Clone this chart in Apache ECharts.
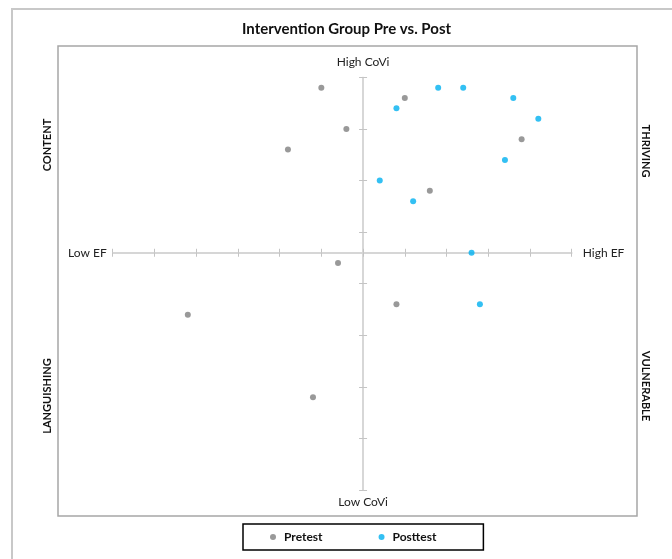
<!DOCTYPE html>
<html>
<head>
<meta charset="utf-8">
<script src="https://cdn.jsdelivr.net/npm/echarts@6/dist/echarts.min.js"></script>
<style>html,body{margin:0;padding:0;background:#fff;}#c{width:672px;height:559px;}</style>
</head>
<body>
<div id="c"></div>
<script>
var titleText = 'Intervention Group Pre vs. Post';
var seriesNames = ['Pretest', 'Posttest'];
var preX = [-1.0, 1.0, -0.4, -1.8, 3.8, 1.6, -0.6, 0.8, -4.2, -1.2];
var preY = [3.2, 3.0, 2.4, 2.0, 2.2, 1.2, -0.2, -1.0, -1.2, -2.8];
var postX = [1.8, 2.4, 3.6, 0.8, 4.2, 3.4, 0.4, 1.2, 2.6, 2.8];
var postY = [3.2, 3.2, 3.0, 2.8, 2.6, 1.8, 1.4, 1.0, 0.0, -1.0];
var axisNames = {xLow: 'Low EF', xHigh: 'High EF', yHigh: 'High CoVi', yLow: 'Low CoVi'};
var quadrants = ['CONTENT', 'THRIVING', 'LANGUISHING', 'VULNERABLE'];

function pairs(xs, ys) { return xs.map(function (v, i) { return [v, ys[i]]; }); }

var FONT = 'Lato, "Liberation Sans", sans-serif';
var axisColor = '#d4d4d4';
var xRange = {min: -6, max: 5, interval: 1};
var yRange = {min: -4.6, max: 3.4, interval: 1};

function mkX(pos, name, loc, gap) {
  return {
    type: 'value', position: pos, min: xRange.min, max: xRange.max, interval: xRange.interval,
    name: name, nameLocation: loc, nameGap: gap,
    nameTextStyle: {fontFamily: FONT, fontSize: 12, color: '#222', verticalAlign: 'middle'},
    axisLine: {show: true, onZero: true, onZeroAxisIndex: 0, lineStyle: {color: axisColor, width: 1.5}},
    axisTick: {show: true, length: 4, lineStyle: {color: '#c4c4c4', width: 1}},
    axisLabel: {show: false}, splitLine: {show: false}
  };
}
function mkY(pos, name, loc, gap) {
  return {
    type: 'value', position: pos, min: yRange.min, max: yRange.max, interval: yRange.interval,
    name: name, nameLocation: loc, nameGap: gap,
    nameTextStyle: {fontFamily: FONT, fontSize: 12, color: '#222', align: 'center'},
    axisLine: {show: true, onZero: true, onZeroAxisIndex: 0, lineStyle: {color: axisColor, width: 1.5}},
    axisTick: {show: true, length: 4, lineStyle: {color: '#c4c4c4', width: 1}},
    axisLabel: {show: false}, splitLine: {show: false}
  };
}

var chart = echarts.init(document.getElementById('c'), null, {renderer: 'canvas'});
chart.setOption({
  backgroundColor: '#fff',
  animation: false,
  title: {
    text: titleText, left: 237, top: 17,
    textStyle: {fontFamily: FONT, fontSize: 15, fontWeight: 'bold', color: '#111'}
  },
  grid: {left: 112.7, right: 100.3, top: 77.4, bottom: 69, containLabel: false},
  xAxis: [mkX('bottom', axisNames.xLow, 'start', 6), mkX('top', axisNames.xHigh, 'end', 11)],
  yAxis: [mkY('left', axisNames.yHigh, 'end', 9), mkY('right', axisNames.yLow, 'start', 6)],
  legend: {
    data: seriesNames, left: 243, top: 524, orient: 'horizontal',
    padding: [7, 47, 7, 27], itemGap: 56, itemWidth: 6, itemHeight: 6,
    borderColor: '#000', borderWidth: 1.5, icon: 'circle',
    textStyle: {fontFamily: FONT, fontSize: 12, fontWeight: 'bold', color: '#111', padding: [0, 0, 0, 3]}
  },
  graphic: [
    {type: 'rect', shape: {x: 12, y: 9, width: 700, height: 600}, style: {fill: 'none', stroke: '#c8c8c8', lineWidth: 2}, silent: true, z: -10},
    {type: 'rect', shape: {x: 58, y: 46, width: 579, height: 470}, style: {fill: 'none', stroke: '#a6a6a6', lineWidth: 1.5}, silent: true, z: -10},
    {type: 'text', x: 47, y: 145, rotation: Math.PI / 2, style: {text: quadrants[0], fontFamily: FONT, fontSize: 11, fontWeight: 'bold', fill: '#111', align: 'center', verticalAlign: 'middle'}},
    {type: 'text', x: 646, y: 151, rotation: -Math.PI / 2, style: {text: quadrants[1], fontFamily: FONT, fontSize: 11, fontWeight: 'bold', fill: '#111', align: 'center', verticalAlign: 'middle'}},
    {type: 'text', x: 47, y: 396, rotation: Math.PI / 2, style: {text: quadrants[2], fontFamily: FONT, fontSize: 11, fontWeight: 'bold', fill: '#111', align: 'center', verticalAlign: 'middle'}},
    {type: 'text', x: 646, y: 386, rotation: -Math.PI / 2, style: {text: quadrants[3], fontFamily: FONT, fontSize: 11, fontWeight: 'bold', fill: '#111', align: 'center', verticalAlign: 'middle'}}
  ],
  series: [
    {name: seriesNames[0], type: 'scatter', xAxisIndex: 0, yAxisIndex: 0, data: pairs(preX, preY), symbol: 'circle', symbolSize: 6, itemStyle: {color: '#7f7f7f'}},
    {name: seriesNames[1], type: 'scatter', xAxisIndex: 0, yAxisIndex: 0, data: pairs(postX, postY), symbol: 'circle', symbolSize: 6, itemStyle: {color: '#00b0f0'}}
  ]
});
</script>
</body>
</html>
